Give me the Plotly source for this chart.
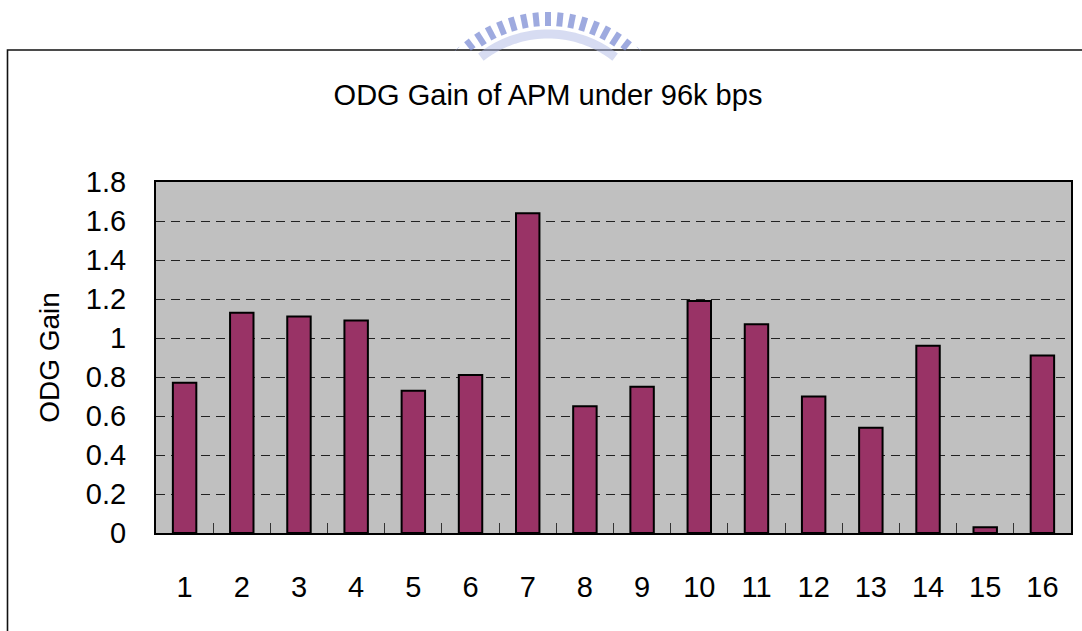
import math
import plotly.graph_objects as go

# ODG gain per test item
items = [str(i) for i in range(1, 17)]
odg_gain = [0.77, 1.13, 1.11, 1.09, 0.73, 0.81, 1.64, 0.65,
            0.75, 1.19, 1.07, 0.70, 0.54, 0.96, 0.03, 0.91]
y_ticks = [0, 0.2, 0.4, 0.6, 0.8, 1.0, 1.2, 1.4, 1.6, 1.8]
y_tick_text = ["0", "0.2", "0.4", "0.6", "0.8", "1", "1.2", "1.4", "1.6", "1.8"]

W, H = 1082, 631
ML, MR, MT, MB = 156, 11, 182, 98
PW, PH = W - ML - MR, H - MT - MB

FONT = "Liberation Sans, Arial, sans-serif"


def px_to_paper(x, y):
    """Convert page pixel coordinates to paper coordinates of the plot area."""
    return (x - ML) / PW, (H - MB - y) / PH


fig = go.Figure(
    go.Bar(
        x=items,
        y=odg_gain,
        marker=dict(color="#993366", line=dict(color="#000000", width=2)),
        hoverinfo="x+y",
    )
)

shapes = []

# outer chart frame (left and top edges visible in the page)
fx0, fy1 = px_to_paper(7.5, 50)
fx1, fy0 = px_to_paper(1095, 645)
shapes.append(dict(type="rect", xref="paper", yref="paper", x0=fx0, x1=fx1,
                   y0=fy0, y1=fy1, line=dict(color="#111111", width=1.6),
                   layer="below"))

# faint seal emblem peeking above the frame
cx, cy = 548, 143
for k in range(-8, 9):
    ang = math.radians(k * 5.5)
    r_in, r_out = 117, 131
    x_a, y_a = cx + r_in * math.sin(ang), cy - r_in * math.cos(ang)
    x_b, y_b = cx + r_out * math.sin(ang), cy - r_out * math.cos(ang)
    if y_b > 49:
        continue
    if y_a > 49:
        t = (49 - y_b) / (y_a - y_b)
        x_a, y_a = x_b + t * (x_a - x_b), 49
    p0 = px_to_paper(x_a, y_a)
    p1 = px_to_paper(x_b, y_b)
    shapes.append(dict(type="line", xref="paper", yref="paper",
                       x0=p0[0], y0=p0[1], x1=p1[0], y1=p1[1],
                       line=dict(color="rgba(125,142,212,0.75)", width=6)))

# inner ring of the emblem
ring = []
for deg in range(-38, 39, 2):
    a = math.radians(deg)
    ring.append(px_to_paper(cx + 109 * math.sin(a), cy - 109 * math.cos(a)))
path = "M " + " L ".join(f"{p[0]:.5f},{p[1]:.5f}" for p in ring)
shapes.append(dict(type="path", xref="paper", yref="paper", path=path,
                   line=dict(color="rgba(175,186,230,0.5)", width=9)))

fig.update_layout(
    width=W,
    height=H,
    margin=dict(l=ML, r=MR, t=MT, b=MB, autoexpand=False),
    paper_bgcolor="#ffffff",
    plot_bgcolor="#c0c0c0",
    bargap=0.59,
    showlegend=False,
    font=dict(family=FONT, size=29, color="#000000"),
    title=dict(text="ODG Gain of APM under 96k bps", x=548 / W, xanchor="center",
               y=(H - 95) / H, yanchor="middle",
               font=dict(family=FONT, size=29, color="#000000")),
    xaxis=dict(
        type="category",
        showgrid=False,
        showline=True, linecolor="#000000", linewidth=2, mirror=True,
        ticks="inside", tickson="boundaries", ticklen=10, tickwidth=1,
        tickcolor="#333333",
        ticklabelstandoff=27,
        tickfont=dict(family=FONT, size=29, color="#000000"),
        zeroline=False,
    ),
    yaxis=dict(
        range=[0, 1.8],
        tickvals=y_ticks,
        ticktext=y_tick_text,
        showgrid=True, gridcolor="#222222", gridwidth=1, griddash="9px,6px",
        showline=True, linecolor="#000000", linewidth=2, mirror=True,
        ticks="", ticklabelstandoff=22,
        tickfont=dict(family=FONT, size=29, color="#000000"),
        zeroline=False,
        title=dict(text="ODG Gain", standoff=18,
                   font=dict(family=FONT, size=28, color="#000000")),
    ),
    shapes=shapes,
)

fig.write_html("out.html")
